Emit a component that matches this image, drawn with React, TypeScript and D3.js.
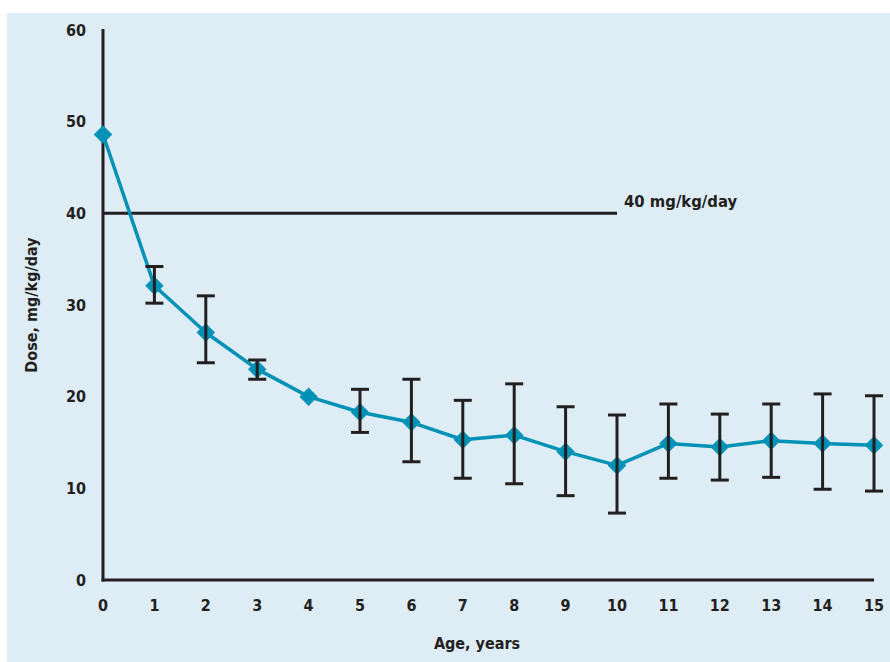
import * as d3 from "d3";
import { useEffect, useRef } from "react";

// ages in years
const ages = [0, 1, 2, 3, 4, 5, 6, 7, 8, 9, 10, 11, 12, 13, 14, 15];
// mean dose, mg/kg/day
const doses = [48.6, 32.1, 27.0, 23.0, 20.0, 18.3, 17.2, 15.3, 15.8, 14.0, 12.5, 14.9, 14.5, 15.2, 14.9, 14.7];
// error bar ends (null = no bar)
const upper = [null, 34.2, 31.0, 24.0, null, 20.8, 21.9, 19.6, 21.4, 18.9, 18.0, 19.2, 18.1, 19.2, 20.3, 20.1];
const lower = [null, 30.2, 23.7, 21.9, null, 16.1, 12.9, 11.1, 10.5, 9.2, 7.3, 11.1, 10.9, 11.2, 9.9, 9.7];
const yTicks = [0, 10, 20, 30, 40, 50, 60];
const refValue = 40;
const refEndAge = 10;
const refLabel = "40 mg/kg/day";

const W = 890;
const H = 662;

export default function App() {
  const ref = useRef<SVGSVGElement>(null);

  useEffect(() => {
    const svg = d3.select(ref.current);
    svg.selectAll("*").remove();

    const font = "'DejaVu Sans Condensed', 'DejaVu Sans', sans-serif";
    const dark = "#231f20";
    const blue = "#0091b6";
    const fs = 16;

    // panel background
    svg.append("rect").attr("x", 7).attr("y", 13).attr("width", W - 7).attr("height", H - 13).attr("fill", "#deedf5");

    const x = d3.scaleLinear().domain([0, 15]).range([103, 874]);
    const y = d3.scaleLinear().domain([0, 60]).range([580, 30]);

    const g = svg.append("g").style("font-family", font).style("font-weight", "bold");

    // y tick labels
    g.selectAll(".yt")
      .data(yTicks)
      .enter()
      .append("text")
      .attr("x", 86)
      .attr("y", (d) => y(d))
      .attr("dy", "0.35em")
      .attr("text-anchor", "end")
      .attr("font-size", fs)
      .attr("fill", dark)
      .text((d) => d);

    // x tick labels
    g.selectAll(".xt")
      .data(ages)
      .enter()
      .append("text")
      .attr("x", (d) => x(d))
      .attr("y", 611)
      .attr("text-anchor", "middle")
      .attr("font-size", fs)
      .attr("fill", dark)
      .text((d) => d);

    // axes
    g.append("line").attr("x1", x(0)).attr("x2", x(0)).attr("y1", y(60) - 1).attr("y2", y(0) + 1.5)
      .attr("stroke", dark).attr("stroke-width", 3);
    g.append("line").attr("x1", x(0) - 1.5).attr("x2", x(15)).attr("y1", y(0)).attr("y2", y(0))
      .attr("stroke", dark).attr("stroke-width", 3);

    // reference line
    g.append("line").attr("x1", x(0)).attr("x2", x(refEndAge)).attr("y1", y(refValue)).attr("y2", y(refValue))
      .attr("stroke", dark).attr("stroke-width", 3);
    g.append("text").attr("x", x(refEndAge) + 7).attr("y", y(refValue) - 6)
      .attr("font-size", fs + 0.5).attr("fill", dark).text(refLabel);

    // axis titles
    g.append("text").attr("x", 477).attr("y", 649).attr("text-anchor", "middle")
      .attr("font-size", fs).attr("fill", dark).text("Age, years");
    g.append("text").attr("transform", `translate(37,305) rotate(-90)`).attr("text-anchor", "middle")
      .attr("font-size", fs).attr("fill", dark).text("Dose, mg/kg/day");

    // line
    const line = d3.line<number>().x((_, i) => x(ages[i])).y((d) => y(d));
    g.append("path").datum(doses).attr("d", line).attr("fill", "none")
      .attr("stroke", blue).attr("stroke-width", 3.5).attr("stroke-linejoin", "round");

    // markers
    const sym = d3.symbol().type(d3.symbolSquare).size(170);
    g.selectAll(".m")
      .data(doses)
      .enter()
      .append("path")
      .attr("d", sym as any)
      .attr("transform", (d, i) => `translate(${x(ages[i])},${y(d)}) rotate(45)`)
      .attr("fill", blue);

    // error bars
    const bars = ages.map((a, i) => ({ a, hi: upper[i], lo: lower[i] })).filter((b) => b.hi !== null);
    const eb = g.selectAll(".eb").data(bars).enter().append("g").attr("stroke", dark).attr("stroke-width", 3);
    eb.append("line").attr("x1", (d) => x(d.a)).attr("x2", (d) => x(d.a))
      .attr("y1", (d) => y(d.hi as number)).attr("y2", (d) => y(d.lo as number));
    eb.append("line").attr("x1", (d) => x(d.a) - 9).attr("x2", (d) => x(d.a) + 9)
      .attr("y1", (d) => y(d.hi as number)).attr("y2", (d) => y(d.hi as number));
    eb.append("line").attr("x1", (d) => x(d.a) - 9).attr("x2", (d) => x(d.a) + 9)
      .attr("y1", (d) => y(d.lo as number)).attr("y2", (d) => y(d.lo as number));
  }, []);

  return (
    <svg ref={ref} width={W} height={H} style={{ position: "absolute", left: 0, top: 0, background: "#fff" }} />
  );
}
